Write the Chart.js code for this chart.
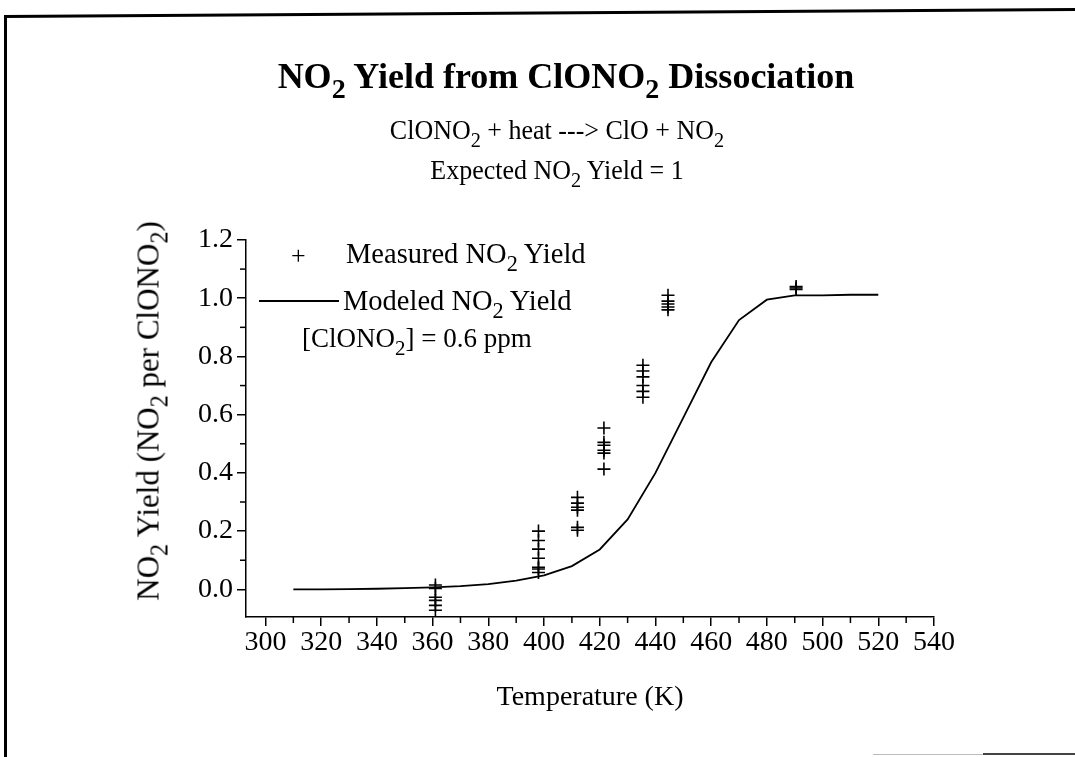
<!DOCTYPE html>
<html><head><meta charset="utf-8">
<script src="https://cdn.jsdelivr.net/npm/chart.js@4.4.1/dist/chart.umd.min.js"></script>
<style>
html,body{margin:0;padding:0;background:#fff;}
#wrap{position:relative;width:1075px;height:757px;overflow:hidden;font-family:'Liberation Serif','Times New Roman',serif;color:#000;background:#fff;}
#c{position:absolute;left:0;top:0;}
.t{position:absolute;white-space:nowrap;line-height:1;}
.t sub{font-size:0.78em;vertical-align:-0.36em;line-height:0;}
.ctr{transform:translateX(-50%);}
</style></head>
<body>
<div id="wrap">
<canvas id="c" width="1075" height="757"></canvas>
<div style="position:absolute;left:4px;top:15px;width:1075px;height:3px;background:#000;transform-origin:0 0;transform:rotate(-0.37deg);"></div>
<div style="position:absolute;left:4px;top:15px;width:3px;height:742px;background:#000;"></div>
<div style="position:absolute;left:873px;top:754px;width:110px;height:1px;background:#bbb;"></div>
<div style="position:absolute;left:983px;top:753px;width:92px;height:2px;background:#444;"></div>

<div class="t ctr" style="left:566px;top:58px;font-size:36px;font-weight:bold;">NO<sub>2</sub> Yield from ClONO<sub>2</sub> Dissociation</div>
<div class="t ctr" style="left:557px;top:118px;font-size:26px;transform:translateX(-50%) scaleY(1.05);">ClONO<sub>2</sub> + heat ---&gt; ClO + NO<sub>2</sub></div>
<div class="t ctr" style="left:557px;top:158px;font-size:26px;transform:translateX(-50%) scaleY(1.05);">Expected NO<sub>2</sub> Yield = 1</div>

<div class="t" style="left:148px;top:411px;font-size:31px;transform:translate(-50%,-50%) rotate(-90deg);">NO<sub>2</sub> Yield (NO<sub>2</sub> per ClONO<sub>2</sub>)</div>
<div class="t ctr" style="left:590px;top:682px;font-size:28px;">Temperature (K)</div>

<div class="t" style="left:291px;top:243px;font-size:26px;">+</div>
<div class="t" style="left:346px;top:240px;font-size:28.5px;">Measured NO<sub>2</sub> Yield</div>
<div style="position:absolute;left:259px;top:300px;width:80px;height:1.5px;background:#000;"></div>
<div class="t" style="left:343px;top:287px;font-size:28.5px;">Modeled NO<sub>2</sub> Yield</div>
<div class="t" style="left:302px;top:325px;font-size:27px;">[ClONO<sub>2</sub>] = 0.6 ppm</div>
</div>
<script>
// Modeled curve
const modelTemp  = [310,320,330,340,350,360,370,380,390,400,410,420,430,440,450,460,470,480,490,500,510,520];
const modelYield = [0.000,0.000,0.001,0.002,0.004,0.007,0.011,0.018,0.030,0.048,0.080,0.137,0.240,0.400,0.590,0.780,0.925,0.995,1.010,1.010,1.012,1.012];
// Measured points
const measuredTemp  = [361,361,361,361,361,361, 398,398,398,398,398,398,398, 412,412,412,412,412,412, 421.5,421.5,421.5,421.5,421.5,421.5, 435.5,435.5,435.5,435.5,435.5,435.5, 444.5,444.5,444.5,444.5,444.5, 490.5,490.5,490.5];
const measuredYield = [0.015,0.003,-0.027,-0.038,-0.055,-0.072, 0.20,0.168,0.138,0.107,0.076,0.070,0.058, 0.316,0.296,0.282,0.272,0.213,0.203, 0.554,0.505,0.495,0.478,0.468,0.413, 0.77,0.75,0.73,0.70,0.68,0.66, 1.01,0.99,0.98,0.97,0.96, 1.03,1.04,1.035];
// Axis ticks
const xTicks = [300,320,340,360,380,400,420,440,460,480,500,520,540];
const xMinor = [310,330,350,370,390,410,430,450,470,490,510,530];
const yTicks = [0.0,0.2,0.4,0.6,0.8,1.0,1.2];
const yMinor = [0.1,0.3,0.5,0.7,0.9,1.1];

const minorTicks = {
  id:'minorTicks',
  afterDraw(chart){
    const ctx=chart.ctx, xs=chart.scales.x, ys=chart.scales.y;
    ctx.save(); ctx.strokeStyle='#000'; ctx.lineWidth=1.5;
    xMinor.forEach(v=>{const p=xs.getPixelForValue(v);ctx.beginPath();ctx.moveTo(p,xs.top);ctx.lineTo(p,xs.top+6);ctx.stroke();});
    yMinor.forEach(v=>{const p=ys.getPixelForValue(v);ctx.beginPath();ctx.moveTo(ys.right,p);ctx.lineTo(ys.right-6,p);ctx.stroke();});
    ctx.restore();
  }
};

const font = {family:"'Liberation Serif','Times New Roman',serif", size:28};
new Chart(document.getElementById('c'), {
  type:'scatter',
  data:{
    datasets:[
      {type:'line', label:'Modeled NO2 Yield', data:modelTemp.map((t,i)=>({x:t,y:modelYield[i]})),
       borderColor:'#000', borderWidth:1.8, pointRadius:0, tension:0, fill:false},
      {label:'Measured NO2 Yield', data:measuredTemp.map((t,i)=>({x:t,y:measuredYield[i]})),
       pointStyle:'cross', pointRadius:6.5, borderColor:'#000', backgroundColor:'#000', borderWidth:1.6}
    ]
  },
  options:{
    responsive:false, animation:false, devicePixelRatio:1,
    layout:{padding:{left:0,top:240,right:141,bottom:0}},
    plugins:{legend:{display:false}, title:{display:false}, tooltip:{enabled:false}},
    scales:{
      x:{type:'linear', min:293, max:540,
         afterBuildTicks:s=>{s.ticks=xTicks.map(v=>({value:v}));},
         afterFit:s=>{s.height=140;},
         ticks:{font:font, color:'#000', padding:0, maxRotation:0, autoSkip:false},
         grid:{drawOnChartArea:false, drawTicks:true, tickLength:9, color:'#000', lineWidth:1.5},
         border:{display:true, color:'#000', width:1.5}},
      y:{type:'linear', min:-0.095, max:1.2,
         afterBuildTicks:s=>{s.ticks=yTicks.map(v=>({value:v}));},
         afterFit:s=>{s.width=246;},
         ticks:{font:font, color:'#000', padding:4, callback:v=>v.toFixed(1), autoSkip:false},
         grid:{drawOnChartArea:false, drawTicks:true, tickLength:9, color:'#000', lineWidth:1.5},
         border:{display:true, color:'#000', width:1.5}}
    }
  },
  plugins:[minorTicks]
});
</script>
</body></html>
